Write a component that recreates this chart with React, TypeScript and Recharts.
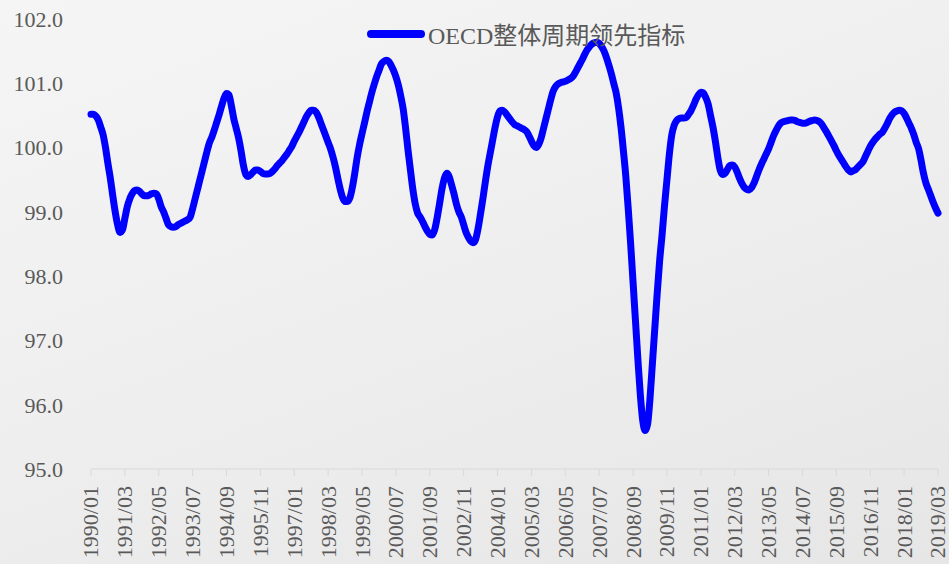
import { CartesianGrid, Legend, Line, LineChart, XAxis, YAxis } from 'recharts';

// OECD composite leading indicator, monthly from 1990/01 to 2019/03 (one row per year)
const cliValues: number[] = [
  100.52, 100.52, 100.49, 100.43, 100.32, 100.2, 100.0, 99.75, 99.52, 99.25, 99.0, 98.8,
  98.68, 98.72, 98.9, 99.08, 99.2, 99.28, 99.33, 99.34, 99.32, 99.28, 99.25, 99.25,
  99.26, 99.28, 99.29, 99.28, 99.2, 99.08, 99.0, 98.9, 98.8, 98.77, 98.76, 98.77,
  98.8, 98.82, 98.84, 98.86, 98.88, 98.92, 99.05, 99.2, 99.35, 99.5, 99.65, 99.8,
  99.95, 100.08, 100.17, 100.28, 100.4, 100.52, 100.65, 100.77, 100.84, 100.82, 100.65, 100.45,
  100.3, 100.15, 99.95, 99.72, 99.58, 99.55, 99.58, 99.62, 99.65, 99.65, 99.63, 99.6,
  99.59, 99.59, 99.6, 99.63, 99.67, 99.72, 99.76, 99.8, 99.85, 99.9, 99.96, 100.02,
  100.1, 100.17, 100.24, 100.32, 100.4, 100.48, 100.54, 100.58, 100.58, 100.55, 100.48, 100.38,
  100.28, 100.18, 100.08, 99.98, 99.85, 99.7, 99.52, 99.35, 99.22, 99.16, 99.16, 99.22,
  99.38, 99.6, 99.85, 100.05, 100.22, 100.38, 100.55, 100.7, 100.85, 100.98, 101.1, 101.2,
  101.3, 101.34, 101.36, 101.34, 101.28, 101.2, 101.1, 100.97, 100.8, 100.6, 100.3, 99.96,
  99.65, 99.35, 99.12, 98.98, 98.92, 98.85, 98.77, 98.7, 98.65, 98.64, 98.72, 98.9,
  99.12, 99.35, 99.52, 99.6, 99.55, 99.42, 99.28, 99.12, 99.0, 98.92, 98.8, 98.68,
  98.6, 98.54, 98.52, 98.58, 98.75, 98.98, 99.22, 99.48, 99.72, 99.92, 100.12, 100.32,
  100.48, 100.57, 100.58, 100.55, 100.5, 100.45, 100.4, 100.36, 100.34, 100.32, 100.3, 100.28,
  100.25, 100.18, 100.1, 100.03, 100.0, 100.05, 100.15, 100.3, 100.45, 100.6, 100.75, 100.88,
  100.95, 100.99, 101.01, 101.02, 101.03, 101.05, 101.07, 101.1, 101.16, 101.23, 101.3, 101.37,
  101.45, 101.52, 101.57, 101.61, 101.63, 101.64, 101.62, 101.57, 101.5, 101.4, 101.28, 101.15,
  101.0, 100.85, 100.62, 100.32, 99.95, 99.55, 99.05, 98.5, 97.9, 97.3, 96.7, 96.15,
  95.75, 95.6, 95.7, 96.1, 96.65, 97.2, 97.75, 98.25, 98.65, 99.1, 99.5, 99.9,
  100.2, 100.35, 100.42, 100.45, 100.46, 100.46, 100.47, 100.52, 100.58, 100.66, 100.75, 100.82,
  100.86, 100.85, 100.78, 100.68, 100.5, 100.32, 100.1, 99.85, 99.65, 99.58, 99.6, 99.66,
  99.72, 99.73, 99.7, 99.62, 99.52, 99.44, 99.38, 99.35, 99.34, 99.38, 99.45, 99.55,
  99.65, 99.74, 99.82, 99.9, 99.98, 100.08, 100.18, 100.26, 100.33, 100.38, 100.4, 100.41,
  100.42, 100.43, 100.43, 100.42, 100.4, 100.39, 100.38, 100.38, 100.39, 100.41, 100.42, 100.43,
  100.42, 100.4, 100.36, 100.3, 100.24, 100.17, 100.1, 100.03, 99.95, 99.88, 99.82, 99.76,
  99.7, 99.65, 99.62, 99.64, 99.66, 99.7, 99.74, 99.78, 99.86, 99.94, 100.02, 100.08,
  100.13, 100.17, 100.21, 100.24, 100.3, 100.37, 100.45, 100.51, 100.55, 100.57, 100.58, 100.57,
  100.53, 100.46, 100.38, 100.3, 100.2, 100.08, 99.98, 99.8, 99.6, 99.45, 99.35, 99.25,
  99.15, 99.06, 98.98,
];

const yTicks = [95, 96, 97, 98, 99, 100, 101, 102];
const seriesName = 'OECD整体周期领先指标';
const START_YEAR = 1990;

const months = cliValues.map((_, i) => {
  const y = START_YEAR + Math.floor(i / 12);
  const m = String((i % 12) + 1).padStart(2, '0');
  return `${y}/${m}`;
});

const data = months.map((month, i) => ({ month, cli: cliValues[i] }));

const TEXT = '#595959';
const FONT = '"Liberation Serif", "Times New Roman", "Noto Sans CJK SC", serif';

function MonthTick({ x, y, payload }: any) {
  return (
    <g transform={`translate(${x},${y})`}>
      <text
        x={-10}
        y={0}
        dy="0.34em"
        transform="rotate(-90)"
        textAnchor="end"
        fill={TEXT}
        fontSize={22}
        fontFamily={FONT}
      >
        {payload.value}
      </text>
    </g>
  );
}

function LegendBox() {
  return (
    <div style={{ display: 'flex', alignItems: 'center', fontFamily: FONT, color: TEXT, fontSize: 24 }}>
      <svg width={60} height={12} style={{ marginRight: 2 }}>
        <line x1={5} y1={6} x2={55} y2={6} stroke="#0000FF" strokeWidth={8} strokeLinecap="round" />
      </svg>
      <span>{seriesName}</span>
    </div>
  );
}

export default function App() {
  return (
    <div
      style={{
        position: 'absolute',
        left: 0,
        top: 0,
        width: 949,
        height: 564,
        background: 'linear-gradient(160deg, #f5f5f5 0%, #efefef 45%, #e6e6e6 100%)',
        overflow: 'hidden',
      }}
    >
      <LineChart width={949} height={564} data={data} margin={{ top: 19, right: 11, bottom: 0, left: 0 }}>
        <CartesianGrid vertical={false} horizontal={false} />
        <XAxis
          dataKey="month"
          interval={13}
          height={95}
          stroke="#d9d9d9"
          tickSize={7}
          tickMargin={0}
          tick={<MonthTick />}
        />
        <YAxis
          domain={[95, 102]}
          ticks={yTicks}
          width={91}
          axisLine={false}
          tickLine={false}
          tickSize={0}
          tickMargin={28}
          tickFormatter={(v: number) => v.toFixed(1)}
          tick={{ fill: TEXT, fontSize: 22, fontFamily: FONT }}
        />
        <Legend
          layout="horizontal"
          verticalAlign="middle"
          align="center"
          wrapperStyle={{ top: 16, left: 366, width: 360 }}
          content={() => <LegendBox />}
        />
        <Line
          type="monotone"
          dataKey="cli"
          name={seriesName}
          stroke="#0000FF"
          strokeWidth={7}
          dot={false}
          strokeLinecap="round"
          strokeLinejoin="round"
          isAnimationActive={false}
        />
      </LineChart>
    </div>
  );
}
